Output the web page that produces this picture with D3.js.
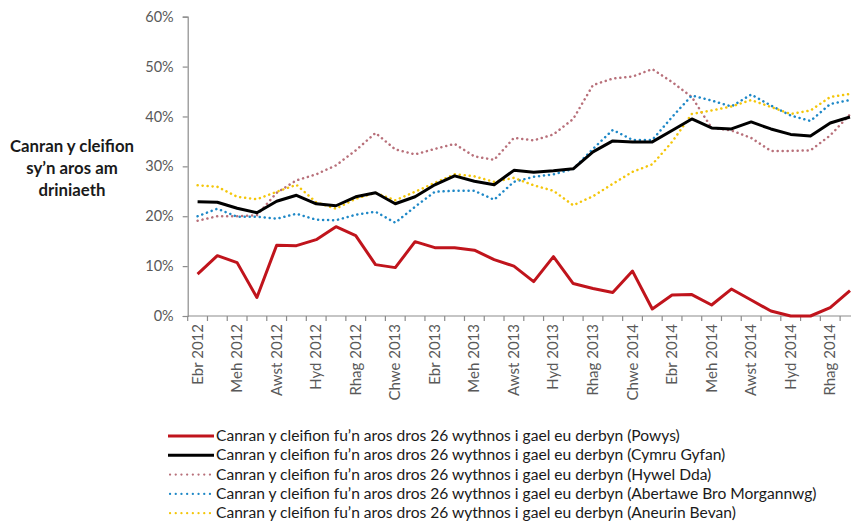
<!DOCTYPE html>
<html>
<head>
<meta charset="utf-8">
<script src="https://cdn.jsdelivr.net/npm/d3@7"></script>
<style>
  html, body { margin: 0; padding: 0; background: #ffffff; }
  svg { display: block; font-family: Lato, "Open Sans", sans-serif; }
</style>
</head>
<body>
<svg id="chart" width="851" height="527"></svg>
<script>
// Month categories, April 2012 to January 2015
const months = [
  "Ebr 2012", "Mai 2012", "Meh 2012", "Gorff 2012", "Awst 2012", "Medi 2012",
  "Hyd 2012", "Tach 2012", "Rhag 2012", "Ion 2013", "Chwe 2013", "Maw 2013",
  "Ebr 2013", "Mai 2013", "Meh 2013", "Gorff 2013", "Awst 2013", "Medi 2013",
  "Hyd 2013", "Tach 2013", "Rhag 2013", "Ion 2014", "Chwe 2014", "Maw 2014",
  "Ebr 2014", "Mai 2014", "Meh 2014", "Gorff 2014", "Awst 2014", "Medi 2014",
  "Hyd 2014", "Tach 2014", "Rhag 2014", "Ion 2015"
];

// Percentage of patients waiting over 26 weeks, by health board
const powys = [
  8.4, 12.1, 10.7, 3.7, 14.2, 14.1, 15.3, 17.9, 16.1, 10.3, 9.7, 14.9,
  13.7, 13.7, 13.2, 11.3, 10.0, 6.9, 11.9, 6.5, 5.5, 4.7, 9.0, 1.4,
  4.2, 4.3, 2.2, 5.4, 3.2, 1.0, 0.0, 0.0, 1.7, 5.1
];
const cymruGyfan = [
  22.9, 22.8, 21.6, 20.7, 23.0, 24.2, 22.5, 22.1, 23.9, 24.7, 22.5, 23.9,
  26.3, 28.1, 27.0, 26.3, 29.2, 28.8, 29.1, 29.5, 32.9, 35.1, 34.9, 34.9,
  37.2, 39.5, 37.7, 37.5, 38.9, 37.5, 36.4, 36.1, 38.7, 39.9
];
const hywelDda = [
  19.1, 20.0, 20.0, 20.2, 24.7, 27.2, 28.4, 30.2, 33.2, 36.7, 33.4, 32.4,
  33.5, 34.5, 32.0, 31.3, 35.7, 35.2, 36.4, 39.5, 46.3, 47.6, 48.0, 49.5,
  46.9, 43.9, 37.7, 37.2, 35.7, 33.1, 33.1, 33.2, 36.2, 40.4
];
const abertawe = [
  20.0, 21.5, 19.9, 19.9, 19.5, 20.5, 19.3, 19.2, 20.3, 20.9, 18.7, 21.9,
  24.9, 25.1, 25.1, 23.3, 26.9, 27.9, 28.4, 29.5, 33.5, 37.3, 35.3, 35.3,
  39.9, 44.2, 43.2, 42.0, 44.4, 42.2, 40.2, 39.1, 42.5, 43.3
];
const aneurinBevan = [
  26.2, 25.9, 23.9, 23.4, 24.9, 26.3, 22.8, 21.5, 23.5, 24.7, 23.2, 24.9,
  26.7, 28.4, 28.0, 26.9, 27.7, 26.2, 25.1, 22.2, 24.0, 26.5, 28.9, 30.4,
  34.9, 40.5, 41.2, 42.0, 43.3, 41.9, 40.5, 41.2, 43.9, 44.5
];

const yTicks = [0, 10, 20, 30, 40, 50, 60];

const legendPrefix = "Canran y cleifion fu\u2019n aros dros 26 wythnos i gael eu derbyn";
const series = [
  { name: "Powys", values: powys, color: "#c0141c", width: 3, dash: null },
  { name: "Cymru Gyfan", values: cymruGyfan, color: "#000000", width: 3, dash: null },
  { name: "Hywel Dda", values: hywelDda, color: "#b8707a", width: 2.5, dash: "0.1 4.9" },
  { name: "Abertawe Bro Morgannwg", values: abertawe, color: "#1e88c7", width: 2.5, dash: "0.1 4.9" },
  { name: "Aneurin Bevan", values: aneurinBevan, color: "#f4c60a", width: 2.5, dash: "0.1 4.9" }
];

const svg = d3.select("#chart");
const plotLeft = 187.7, step = 19.77;
const plotTop = 16.7, plotBottom = 316;

const x = d3.scaleBand()
  .domain(d3.range(months.length))
  .range([plotLeft, plotLeft + step * months.length])
  .padding(0);
const y = d3.scaleLinear().domain([0, 60]).range([plotBottom, plotTop]);
const cx = i => x(i) + x.bandwidth() / 2;

const axisColor = "#8c8c8c";
const textColor = "#595959";

// Y axis
const yAxis = svg.append("g")
  .attr("transform", `translate(${plotLeft},0)`)
  .call(d3.axisLeft(y).tickValues(yTicks).tickSize(5).tickPadding(9)
    .tickFormat(d => d + "%"));
yAxis.select(".domain").attr("stroke", axisColor).attr("stroke-width", 1.2);
yAxis.selectAll(".tick line").attr("stroke", axisColor).attr("stroke-width", 1.2);
yAxis.selectAll(".tick text")
  .attr("fill", textColor)
  .style("font-size", "14.5px")
  .style("font-family", "Lato, sans-serif");

// X axis: tick marks on category boundaries, labels on every second month
const xg = svg.append("g").attr("transform", `translate(0,${plotBottom})`);
xg.append("line")
  .attr("x1", plotLeft).attr("x2", plotLeft + step * months.length)
  .attr("stroke", axisColor).attr("stroke-width", 1.2);
xg.selectAll("line.tick")
  .data(d3.range(months.length + 1))
  .join("line")
  .attr("class", "tick")
  .attr("x1", i => i < months.length ? x(i) : x(months.length - 1) + x.bandwidth())
  .attr("x2", i => i < months.length ? x(i) : x(months.length - 1) + x.bandwidth())
  .attr("y1", 0).attr("y2", 5)
  .attr("stroke", axisColor).attr("stroke-width", 1.2);
xg.selectAll("text")
  .data(months.map((m, i) => ({ m, i })).filter(d => d.i % 2 === 0))
  .join("text")
  .attr("transform", d => `translate(${cx(d.i) + 5},8) rotate(-90)`)
  .attr("text-anchor", "end")
  .attr("fill", textColor)
  .style("font-size", "15px")
  .text(d => d.m);

// Y axis title
const title = svg.append("text")
  .attr("text-anchor", "middle")
  .attr("fill", "#1a1a1a")
  .style("font-size", "16.8px")
  .style("font-weight", "bold");
["Canran y cleifion", "sy\u2019n aros am", "driniaeth"].forEach((t, k) => {
  title.append("tspan").attr("x", 72).attr("y", 152 + k * 22).text(t);
});

// Series lines
const line = d3.line().x((d, i) => cx(i)).y(d => y(d));
const drawOrder = [2, 3, 4, 1, 0];
drawOrder.forEach(k => {
  const s = series[k];
  svg.append("path")
    .datum(s.values)
    .attr("d", line)
    .attr("fill", "none")
    .attr("stroke", s.color)
    .attr("stroke-width", s.width)
    .attr("stroke-linejoin", "round")
    .attr("stroke-linecap", s.dash ? "round" : "butt")
    .attr("stroke-dasharray", s.dash);
});

// Legend
const legend = svg.append("g");
series.forEach((s, k) => {
  const ly = 436 + k * 19.3;
  legend.append("line")
    .attr("x1", s.dash ? 170 : 168).attr("x2", s.dash ? 211 : 214)
    .attr("y1", ly).attr("y2", ly)
    .attr("stroke", s.color)
    .attr("stroke-width", s.dash ? 2.2 : 3)
    .attr("stroke-linecap", s.dash ? "round" : "butt")
    .attr("stroke-dasharray", s.dash ? "0.1 5.6" : null);
  legend.append("text")
    .attr("x", 216).attr("y", ly + 5)
    .attr("fill", "#1a1a1a")
    .style("font-size", "15.6px")
    .text(`${legendPrefix} (${s.name})`);
});
</script>
</body>
</html>
